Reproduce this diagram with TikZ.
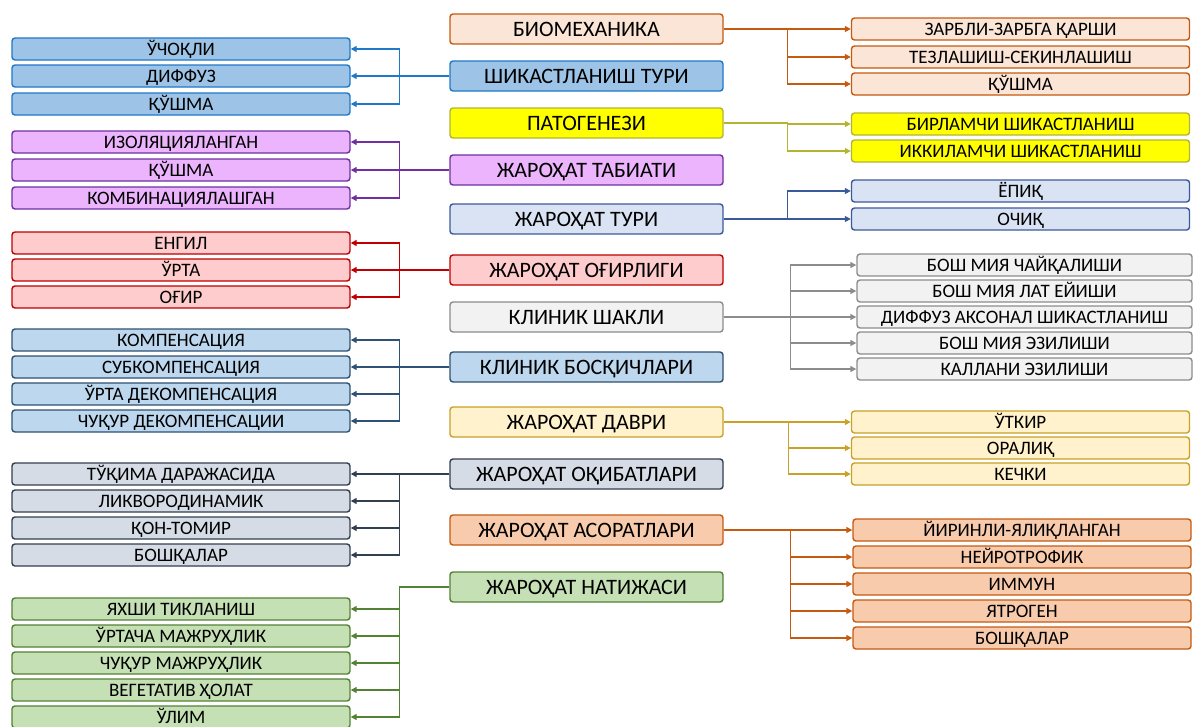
\documentclass[tikz,border=0pt]{standalone}
\usepackage{fontspec}
\setmainfont{Carlito}
\usetikzlibrary{arrows.meta,positioning}
\definecolor{cShikFill}{HTML}{9DC3E6}\definecolor{cShikLine}{HTML}{1F78C8}
\definecolor{cTabiFill}{HTML}{EBB4FC}\definecolor{cTabiLine}{HTML}{7030A0}
\definecolor{cOgirFill}{HTML}{FFCCCE}\definecolor{cOgirLine}{HTML}{C00000}
\definecolor{cBosqFill}{HTML}{BDD7EE}\definecolor{cBosqLine}{HTML}{2F5173}
\definecolor{cOqibFill}{HTML}{D6DCE5}\definecolor{cOqibLine}{HTML}{333F50}
\definecolor{cNatiFill}{HTML}{C5E0B4}\definecolor{cNatiLine}{HTML}{548235}
\definecolor{cBioFill}{HTML}{FBE5D6}\definecolor{cBioLine}{HTML}{C55A11}
\definecolor{cPatoFill}{HTML}{FFFF00}\definecolor{cPatoLine}{HTML}{B4B432}
\definecolor{cTuriFill}{HTML}{DAE3F3}\definecolor{cTuriLine}{HTML}{3B5A9A}
\definecolor{cShaklFill}{HTML}{F2F2F2}\definecolor{cShaklLine}{HTML}{8C8C8C}
\definecolor{cDavrFill}{HTML}{FFF2CC}\definecolor{cDavrLine}{HTML}{C9A227}
\definecolor{cAsorFill}{HTML}{F8CBAD}\definecolor{cAsorLine}{HTML}{C55A11}
\tikzset{
  box/.style={draw, rounded corners=3pt, line width=1.4pt, inner sep=0pt, text depth=0pt, text=black},
  leaf/.style={box, minimum width=338pt, minimum height=22pt, text height=12.2pt, font=\fontsize{19}{19}\selectfont},
  head/.style={box, minimum width=273pt, minimum height=30pt, text height=14.2pt, font=\fontsize{22}{22}\selectfont},
  link/.style={line width=1.4pt, -{Triangle[length=6pt,width=6pt]}}
}
\begin{document}
\begin{tikzpicture}[x=1pt, y=-1pt]
\useasboundingbox[fill=white] (0,0) rectangle (1194,726);

% Middle column
\node[head, fill=cBioFill, draw=cBioLine] (bio) at (586.5,29) {БИОМЕХАНИКА};
\node[head, fill=cShikFill, draw=cShikLine] (shik) at (586.5,76) {ШИКАСТЛАНИШ ТУРИ};
\node[head, fill=cPatoFill, draw=cPatoLine] (pato) at (586.5,123) {ПАТОГЕНЕЗИ};
\node[head, fill=cTabiFill, draw=cTabiLine] (tabi) at (586.5,170) {ЖАРОҲАТ ТАБИАТИ};
\node[head, fill=cTuriFill, draw=cTuriLine] (turi) at (586.5,219) {ЖАРОҲАТ ТУРИ};
\node[head, fill=cOgirFill, draw=cOgirLine] (ogir) at (586.5,270) {ЖАРОҲАТ ОҒИРЛИГИ};
\node[head, fill=cShaklFill, draw=cShaklLine] (shakl) at (586.5,317) {КЛИНИК ШАКЛИ};
\node[head, fill=cBosqFill, draw=cBosqLine] (bosq) at (586.5,367) {КЛИНИК БОСҚИЧЛАРИ};
\node[head, fill=cDavrFill, draw=cDavrLine] (davr) at (586.5,422) {ЖАРОҲАТ ДАВРИ};
\node[head, fill=cOqibFill, draw=cOqibLine] (oqib) at (586.5,474) {ЖАРОҲАТ ОҚИБАТЛАРИ};
\node[head, fill=cAsorFill, draw=cAsorLine] (asor) at (586.5,530) {ЖАРОҲАТ АСОРАТЛАРИ};
\node[head, fill=cNatiFill, draw=cNatiLine] (nati) at (586.5,587) {ЖАРОҲАТ НАТИЖАСИ};

% Left column
\foreach \i/\y/\t in {1/49/ЎЧОҚЛИ, 2/76/ДИФФУЗ, 3/104/ҚЎШМА} {
  \node[leaf, fill=cShikFill, draw=cShikLine] (sh\i) at (181,\y) {\t};
  \draw[link, cShikLine] (shik.west) -- ++(-50,0) |- (sh\i.east);
}
\foreach \i/\y/\t in {1/142/ИЗОЛЯЦИЯЛАНГАН, 2/170/ҚЎШМА, 3/198/КОМБИНАЦИЯЛАШГАН} {
  \node[leaf, fill=cTabiFill, draw=cTabiLine] (tb\i) at (181,\y) {\t};
  \draw[link, cTabiLine] (tabi.west) -- ++(-50,0) |- (tb\i.east);
}
\foreach \i/\y/\t in {1/243/ЕНГИЛ, 2/270/ЎРТА, 3/297/ОҒИР} {
  \node[leaf, fill=cOgirFill, draw=cOgirLine] (og\i) at (181,\y) {\t};
  \draw[link, cOgirLine] (ogir.west) -- ++(-50,0) |- (og\i.east);
}
\foreach \i/\y/\t in {1/340/КОМПЕНСАЦИЯ, 2/367/СУБКОМПЕНСАЦИЯ, 3/394/ЎРТА ДЕКОМПЕНСАЦИЯ, 4/421/ЧУҚУР ДЕКОМПЕНСАЦИИ} {
  \node[leaf, fill=cBosqFill, draw=cBosqLine] (bq\i) at (181,\y) {\t};
  \draw[link, cBosqLine] (bosq.west) -- ++(-50,0) |- (bq\i.east);
}
\foreach \i/\y/\t in {1/474/ТЎҚИМА ДАРАЖАСИДА, 2/501/ЛИКВОРОДИНАМИК, 3/528/ҚОН-ТОМИР, 4/555/БОШҚАЛАР} {
  \node[leaf, fill=cOqibFill, draw=cOqibLine] (oq\i) at (181,\y) {\t};
  \draw[link, cOqibLine] (oqib.west) -- ++(-50,0) |- (oq\i.east);
}
\foreach \i/\y/\t in {1/609/ЯХШИ ТИКЛАНИШ, 2/636/ЎРТАЧА МАЖРУҲЛИК, 3/663/ЧУҚУР МАЖРУҲЛИК, 4/690/ВЕГЕТАТИВ ҲОЛАТ, 5/717/ЎЛИМ} {
  \node[leaf, fill=cNatiFill, draw=cNatiLine] (nt\i) at (181,\y) {\t};
  \draw[link, cNatiLine] (nati.west) -- ++(-50,0) |- (nt\i.east);
}

% Right column
\foreach \i/\y/\t in {1/29/ЗАРБЛИ-ЗАРБГА ҚАРШИ, 2/57/ТЕЗЛАШИШ-СЕКИНЛАШИШ, 3/84/ҚЎШМА} {
  \node[leaf, fill=cBioFill, draw=cBioLine] (bm\i) at (1020.5,\y) {\t};
  \draw[link, cBioLine] (bio.east) -- ++(64,0) |- (bm\i.west);
}
\foreach \i/\y/\t in {1/124/БИРЛАМЧИ ШИКАСТЛАНИШ, 2/151/ИККИЛАМЧИ ШИКАСТЛАНИШ} {
  \node[leaf, fill=cPatoFill, draw=cPatoLine] (pt\i) at (1020.5,\y) {\t};
  \draw[link, cPatoLine] (pato.east) -- ++(64,0) |- (pt\i.west);
}
\foreach \i/\y/\t in {1/191/ЁПИҚ, 2/219/ОЧИҚ} {
  \node[leaf, fill=cTuriFill, draw=cTuriLine] (tu\i) at (1020.5,\y) {\t};
  \draw[link, cTuriLine] (turi.east) -- ++(64,0) |- (tu\i.west);
}
\foreach \i/\y/\t in {1/265/БОШ МИЯ ЧАЙҚАЛИШИ, 2/291/БОШ МИЯ ЛАТ ЕЙИШИ, 3/317/ДИФФУЗ АКСОНАЛ ШИКАСТЛАНИШ, 4/343/БОШ МИЯ ЭЗИЛИШИ, 5/369/КАЛЛАНИ ЭЗИЛИШИ} {
  \node[leaf, minimum width=335pt, fill=cShaklFill, draw=cShaklLine] (sk\i) at (1024.5,\y) {\t};
  \draw[link, cShaklLine] (shakl.east) -- ++(67,0) |- (sk\i.west);
}
\foreach \i/\y/\t in {1/422/ЎТКИР, 2/448/ОРАЛИҚ, 3/474/КЕЧКИ} {
  \node[leaf, fill=cDavrFill, draw=cDavrLine] (dv\i) at (1020.5,\y) {\t};
  \draw[link, cDavrLine] (davr.east) -- ++(65,0) |- (dv\i.west);
}
\foreach \i/\y/\t in {1/530/ЙИРИНЛИ-ЯЛИҚЛАНГАН, 2/557/НЕЙРОТРОФИК, 3/584/ИММУН, 4/611/ЯТРОГЕН, 5/638/БОШҚАЛАР} {
  \node[leaf, fill=cAsorFill, draw=cAsorLine] (as\i) at (1022,\y) {\t};
  \draw[link, cAsorLine] (asor.east) -- ++(67,0) |- (as\i.west);
}
\end{tikzpicture}
\end{document}
